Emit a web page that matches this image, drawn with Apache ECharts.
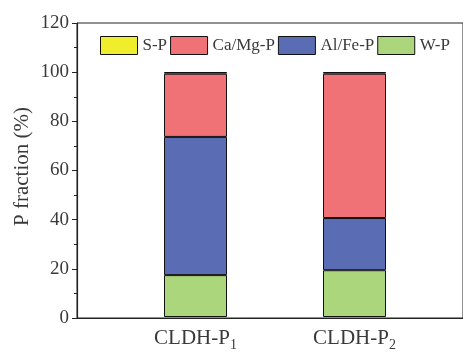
<!DOCTYPE html>
<html>
<head>
<meta charset="utf-8">
<script src="https://cdn.jsdelivr.net/npm/echarts@6/dist/echarts.min.js"></script>
<style>
  html, body { margin: 0; padding: 0; background: #fff; }
  #chart { width: 463px; height: 352px; }
</style>
</head>
<body>
<div id="chart"></div>
<script>
// Phosphorus fractions of the two samples (% of total P), stacked bottom-up
const categories = ['CLDH-P1', 'CLDH-P2'];
const subscripts = ['1', '2'];
const wP    = [17.1, 19.1];
const alFeP = [56.4, 21.3];
const caMgP = [25.8, 58.9];
const sP    = [0.7, 0.7];
const yTicks = [0, 20, 40, 60, 80, 100, 120];

const font = '"Liberation Serif", "Times New Roman", serif';
const textColor = '#3a3a3a';
const axisColor = '#222';
const edge = { borderColor: '#111', borderWidth: 1 };
const yMin = yTicks[0], yMax = yTicks[yTicks.length - 1];

const chart = echarts.init(document.getElementById('chart'), null, { renderer: 'canvas' });

function bar(name, vals, color) {
  return {
    name: name,
    type: 'bar',
    stack: 'p',
    barWidth: 63,
    xAxisIndex: 1,
    yAxisIndex: 1,
    data: vals,
    itemStyle: Object.assign({ color: color }, edge),
    emphasis: { disabled: true }
  };
}

chart.setOption({
  animation: false,
  backgroundColor: '#fff',
  grid: [
    // outer frame carrying the visible y axis
    { left: 77, top: 23, bottom: 34, right: -6, show: true,
      borderColor: axisColor, borderWidth: 1, backgroundColor: 'transparent' },
    // inner plotting area for the two sample columns
    { left: 116, top: 23, bottom: 34, right: 29 }
  ],
  legend: {
    left: 95, top: 31,
    itemWidth: 37, itemHeight: 18, itemGap: 3,
    icon: 'rect',
    data: ['S-P', 'Ca/Mg-P', 'Al/Fe-P', 'W-P'],
    textStyle: { fontFamily: font, fontSize: 17, color: textColor },
    itemStyle: edge
  },
  xAxis: [
    {
      gridIndex: 0, type: 'value', min: 0, max: 1,
      splitLine: { show: false },
      axisLine: { show: true, onZero: false, lineStyle: { color: axisColor, width: 1.2 } },
      axisTick: { show: false },
      axisLabel: { show: false }
    },
    {
      gridIndex: 1, type: 'category', data: categories,
      axisLine: { show: false },
      axisTick: { show: false },
      axisLabel: {
        margin: 11,
        formatter: (v, i) => '{a|' + v.slice(0, -1) + '}{s|' + subscripts[i] + '}',
        rich: {
          a: { fontFamily: font, fontSize: 21, color: textColor, lineHeight: 22, verticalAlign: 'top' },
          s: { fontFamily: font, fontSize: 14, color: textColor, lineHeight: 14, verticalAlign: 'top', padding: [10, 0, 0, 0] }
        }
      }
    }
  ],
  yAxis: [
    {
      gridIndex: 0, type: 'value',
      min: yMin, max: yMax, interval: 20,
      name: 'P fraction (%)',
      nameLocation: 'middle',
      nameGap: 44,
      nameMoveOverlap: false,
      nameTextStyle: { fontFamily: font, fontSize: 21, color: textColor, padding: [0, 0, 0, 8] },
      splitLine: { show: false },
      axisLine: { show: true, lineStyle: { color: axisColor, width: 1.2 } },
      axisTick: { show: true, length: 5, lineStyle: { color: axisColor } },
      minorTick: { show: true, splitNumber: 2, length: 3, lineStyle: { color: axisColor } },
      axisLabel: { fontFamily: font, fontSize: 19, color: textColor, margin: 8 }
    },
    {
      gridIndex: 1, type: 'value', min: yMin, max: yMax,
      show: false, splitLine: { show: false }
    }
  ],
  series: [
    bar('W-P', wP, '#acd67c'),
    bar('Al/Fe-P', alFeP, '#5a6cb4'),
    bar('Ca/Mg-P', caMgP, '#f07276'),
    bar('S-P', sP, '#f0ee2c')
  ]
});
</script>
</body>
</html>
